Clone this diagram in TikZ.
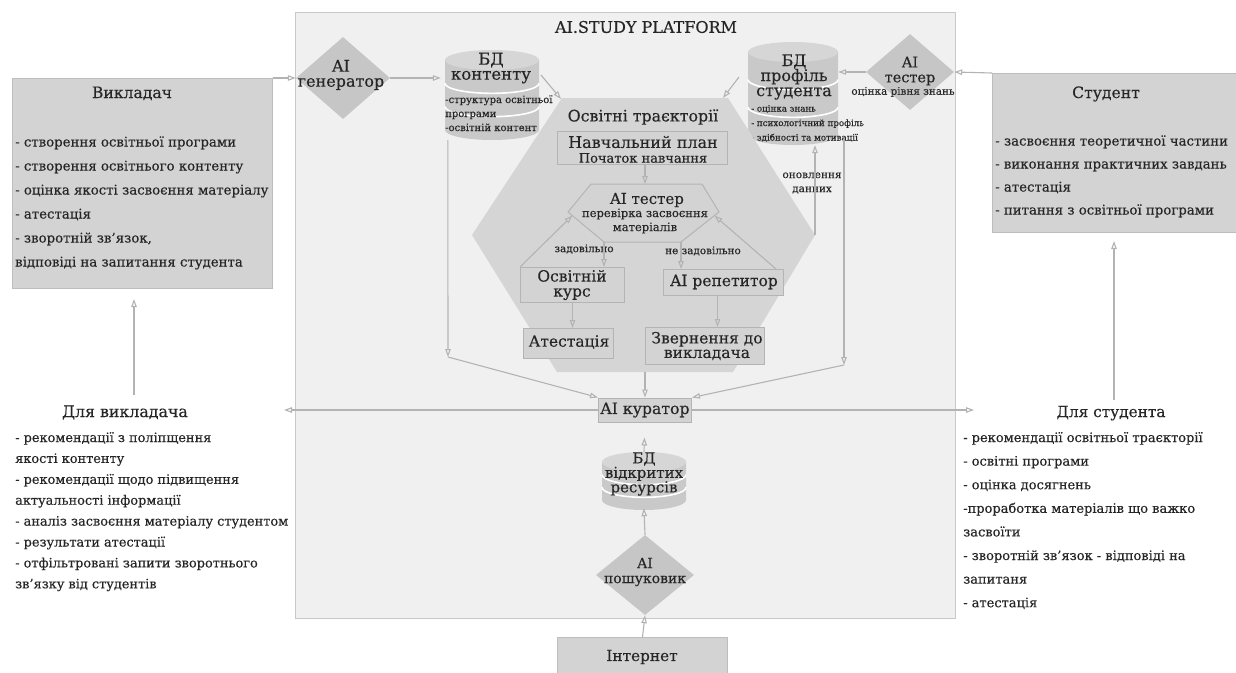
\documentclass[tikz,border=0pt]{standalone}
\usepackage{fontspec}
\setmainfont{DejaVu Serif}[FakeBold=0.35]
\usetikzlibrary{shapes.geometric,arrows.meta,calc}
\definecolor{platbg}{HTML}{F0F0F0}
\definecolor{platbd}{HTML}{C8C8C8}
\definecolor{boxbg}{HTML}{D3D3D3}
\definecolor{boxbd}{HTML}{BDBDBD}
\definecolor{hexbg}{HTML}{D5D5D5}
\definecolor{inbg}{HTML}{D3D3D3}
\definecolor{inbd}{HTML}{B4B4B4}
\definecolor{dmbg}{HTML}{C6C6C6}
\definecolor{arrcol}{HTML}{B3B3B3}
\definecolor{txt}{HTML}{262626}
\definecolor{dbbody}{HTML}{C9C9C9}
\definecolor{dbtop}{HTML}{D6D6D6}
\tikzset{
  every node/.style={text=txt, inner sep=0pt},
  arr/.style={draw=arrcol, line width=1.1pt, -{Triangle[open,length=8pt,width=5.5pt]}},
  bigbox/.style={draw=boxbd, fill=boxbg, line width=1pt},
  inbox/.style={draw=inbd, fill=inbg, line width=1pt},
  dmd/.style={diamond, fill=dmbg, draw=none, inner sep=0pt},
  fs/.style={font=\fontsize{#1}{#1}\selectfont},
  fl/.style 2 args={font=\fontsize{#1}{#2}\selectfont},
  pics/dbcyl/.style n args={3}{code={
    \fill[dbbody] (-#1,0) -- (-#1,#2) arc[start angle=180,end angle=0,x radius=#1,y radius=#3] -- (#1,0) -- cycle;
    \draw[white,line width=1.6pt] (#1,#2/3) arc[start angle=0,end angle=180,x radius=#1,y radius=#3];
    \draw[white,line width=1.6pt] (#1,2*#2/3) arc[start angle=0,end angle=180,x radius=#1,y radius=#3];
    \fill[dbtop] (0,0) ellipse[x radius=#1,y radius=#3];
  }}
}
\begin{document}
\begin{tikzpicture}[x=1pt,y=-1pt]
\useasboundingbox (0,0) rectangle (1236,672);
\fill[white] (0,0) rectangle (1236,672);
% platform
\node[draw=platbd, fill=platbg, line width=1pt, minimum width=660pt, minimum height=606pt, anchor=north west] (plat) at (295,12) {};
\node[fs=16] (ptitle) at (646,27) {AI.STUDY PLATFORM};
% big side boxes
\node[bigbox, minimum width=260pt, minimum height=210pt, anchor=north west] (vik) at (12,78) {};
\node[fs=15.6, anchor=base] (vikt) at (132,98) {Викладач};
\foreach \t [count=\i] in {{- створення освітньої програми},{- створення освітнього контенту},{- оцінка якості засвоєння матеріалу},{- атестація},{- зворотній зв’язок,},{відповіді на запитання студента}}
  \node[fs=13.3, anchor=base west] (vi\i) at (15,{146.5+24*(\i-1)}) {\t};
\node[bigbox, minimum width=250pt, minimum height=159pt, anchor=north west] (stud) at (992,73) {};
\node[fs=15.6, anchor=base] (studt) at (1106,98) {Студент};
\foreach \t [count=\i] in {{- засвоєння теоретичної частини},{- виконання практичних завдань},{- атестація},{- питання з освітньої програми}}
  \node[fs=13.3, anchor=base west] (si\i) at (995,{145.5+23*(\i-1)}) {\t};
% generator
\node[dmd, minimum width=94pt, minimum height=82pt] (gen) at (343,78) {};
\node[fl={16}{15}, align=center] (gent) at (341,75) {AI\\генератор};
% DB content
\pic at (492,60) {dbcyl={47}{70}{10}};
\node[minimum width=94pt, minimum height=90pt] (dbc) at (492,95) {};
\node[fl={16.5}{15}, align=center] (dbct) at (491,68) {БД\\контенту};
\foreach \t [count=\i] in {{-структура освітньої},{програми},{-освітній контент}}
  \node[fs=10, anchor=base west] (dc\i) at (445,{103+14*(\i-1)}) {\t};
% DB profile
\pic at (793,52) {dbcyl={45}{83}{10}};
\node[minimum width=90pt, minimum height=103pt] (dbp) at (793,93.5) {};
\node[fl={16}{15}, align=center] (dbpt) at (794,77) {БД\\профіль\\студента};
\foreach \t [count=\i] in {{- оцінка знань},{- психологічний профіль},{- здібності та мотивації}}
  \node[fs=8.7, anchor=base west] (dp\i) at (751,{111.5+14.5*(\i-1)}) {\t};
% tester top right
\node[dmd, minimum width=88pt, minimum height=76pt] (tst) at (910,72) {};
\node[fl={14.5}{15}, align=center] (tstt) at (910,71) {AI\\тестер};
\node[fs=10.4] (tstl) at (903,92) {оцінка рівня знань};
% hexagon
\coordinate (hexTL) at (562,98);
\coordinate (hexTR) at (728,98);
\coordinate (hexR) at (815,235);
\coordinate (hexBR) at (733,372);
\coordinate (hexB) at (645,372);
\coordinate (hexBL) at (557,372);
\coordinate (hexL) at (472,235);
\fill[hexbg] (hexTL) -- (hexTR) -- (hexR) -- (hexBR) -- (hexBL) -- (hexL) -- cycle;
\node[fs=15.8] (hext) at (643,117) {Освітні траєкторії};
\node[inbox, minimum width=170pt, minimum height=33pt, anchor=north west] (np) at (557,131) {};
\node[fs=16] (npt1) at (643,142) {Навчальний план};
\node[fs=13] (npt2) at (643,158) {Початок навчання};
% inner tester
\coordinate (tTL) at (591,184);
\coordinate (tTR) at (702,184);
\coordinate (tR) at (719,212);
\coordinate (tBR) at (681,242);
\coordinate (tBL) at (604,242);
\coordinate (tL) at (568,212);
\coordinate (tTop) at (645,184);
\draw[fill=inbg, draw=inbd, line width=1pt] (tTL) -- (tTR) -- (tR) -- (tBR) -- (tBL) -- (tL) -- cycle;
\node[fs=15] (tin1) at (647,200) {AI тестер};
\node[fl={11.5}{14}, align=center] (tin2) at (645,221) {перевірка засвоєння\\матеріалів};
\node[fs=10.4] (lz) at (584,249) {задовільно};
\node[fs=10.4] (lnz) at (703,251) {не задовільно};
\node[inbox, minimum width=104pt, minimum height=35pt, anchor=north west] (kurs) at (520,267) {};
\node[fl={15.5}{15}, align=center] (kurst) at (572,285) {Освітній\\курс};
\node[inbox, minimum width=120pt, minimum height=26pt, anchor=north west] (rep) at (663,269) {};
\node[fs=15.5] (rept) at (724,282) {AI репетитор};
\node[inbox, minimum width=90pt, minimum height=30pt, anchor=north west] (att) at (523,328) {};
\node[fs=15.5] (attt) at (569,342) {Атестація};
\node[inbox, minimum width=119pt, minimum height=37pt, anchor=north west] (zv) at (645,327) {};
\node[fl={15.5}{14.5}, align=center] (zvt) at (707,346) {Звернення до\\викладача};
\node[fl={10.5}{14}, align=center] (onov) at (812,183) {оновлення\\данних};
% curator and lower part
\node[inbox, minimum width=93pt, minimum height=24pt] (cur) at (645,410) {};
\node[fs=15.7] (curt) at (645,410) {AI куратор};
\pic at (644,462) {dbcyl={42}{38}{10}};
\node[minimum width=84pt, minimum height=58pt] (dbo) at (644,481) {};
\node[fl={15}{14.5}, align=center] (dbot) at (644,474) {БД\\відкритих\\ресурсів};
\node[dmd, minimum width=98pt, minimum height=80pt] (srch) at (645,575) {};
\node[fl={14}{15}, align=center] (srcht) at (645,572) {AI\\пошуковик};
\node[bigbox, minimum width=170pt, minimum height=40pt, anchor=north west] (inet) at (557,637) {};
\node[fs=15.3] (inett) at (642,657) {Інтернет};
% bottom texts
\node[fs=15.8, anchor=base] (dvt) at (125,417) {Для викладача};
\foreach \t [count=\i] in {{- рекомендації з поліпщення},{якості контенту},{- рекомендації щодо підвищення},{актуальності інформації},{- аналіз засвоєння матеріалу студентом},{- результати атестації},{- отфільтровані запити зворотнього},{зв’язку від студентів}}
  \node[fs=12.9, anchor=base west] (dv\i) at (15,{442+20.9*(\i-1)}) {\t};
\node[fs=15.3, anchor=base] (dst) at (1111,417) {Для студента};
\foreach \t [count=\i] in {{- рекомендації освітньої траєкторії},{- освітні програми},{- оцінка досягнень},{-проработка матеріалів що важко},{засвоїти},{- зворотній зв’язок - відповіді на},{запитаня},{- атестація}}
  \node[fs=13, anchor=base west] (ds\i) at (963,{442+23.6*(\i-1)}) {\t};
% connectors
\coordinate (dbcR) at (541,75);
\coordinate (hexTLa) at (561,99);
\coordinate (dbpL) at (739,77);
\coordinate (hexTRa) at (723,98);
\coordinate (kIn) at ($(tL)!0.12!(tBL)$);
\coordinate (rIn) at ($(tR)!0.12!(tBR)$);
\coordinate (lvEnd) at (448,357);
\coordinate (rvTop) at (844,140);
\coordinate (rvEnd) at (844,365);
\coordinate (curL) at (284,410);
\coordinate (curR) at (974,410);
\coordinate (dvTop) at (134,395);
\coordinate (dsTop) at (1114,400);
\draw[arr] (vik.north east) -- (gen.west);
\draw[arr, shorten >=4pt] (gen.east) -- (gen.east -| dbc.west);
\draw[arr] (dbcR) -- (hexTLa);
\draw[arr] (dbpL) -- (hexTRa);
\draw[arr] (tst.west) -- (tst.west -| dbp.east);
\draw[arr] (stud.north west) -- (tst.east);
\draw[arr] (np.south -| tTop) -- (tTop);
\draw[arr] (tBL) -- (tBL |- kurs.north);
\draw[arr] (tBR) -- (tBR |- rep.north);
\draw[arr] (kurs.north west) -- (kIn);
\draw[arr] ([xshift=-8pt]rep.north east) -- (rIn);
\draw[arr] (kurs.south) -- (kurs.south |- att.north);
\draw[arr] ([xshift=-6pt]rep.south) -- ([xshift=-6pt]rep.south |- zv.north);
\draw[arr] ([xshift=3pt]dbc.south west) -- (lvEnd);
\draw[arr] (lvEnd) -- (cur.north west);
\draw[arr] (rvTop) -- (rvEnd);
\draw[arr] (rvEnd) -- (cur.north east);
\draw[arr] (hexR) -- (hexR |- dbp.south);
\draw[arr] (hexB) -- (cur.north);
\draw[arr] (cur.west) -- (curL);
\draw[arr] (cur.east) -- (curR);
\draw[arr, shorten >=15pt] (dbo.north) -- (cur.south);
\draw[arr, shorten >=-2pt] (srch.north) -- (dbo.south);
\draw[arr] (inet.north) -- (srch.south);
\draw[arr, shorten >=10pt] (dvTop) -- (dvTop |- vik.south);
\draw[arr, shorten >=8pt] (dsTop) -- (dsTop |- stud.south);
\end{tikzpicture}
\end{document}
